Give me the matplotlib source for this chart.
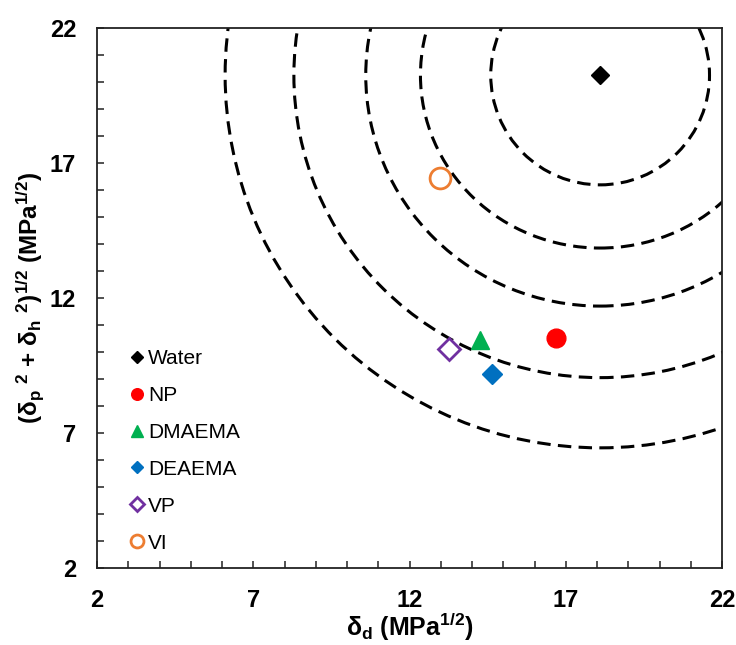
import matplotlib
matplotlib.use("Agg")
import matplotlib.pyplot as plt
from matplotlib.patches import Ellipse
from matplotlib.ticker import MultipleLocator

plt.rcParams['font.family'] = ['Liberation Sans', 'DejaVu Sans']
plt.rcParams['mathtext.fontset'] = 'custom'
plt.rcParams['mathtext.rm'] = 'Liberation Sans'
plt.rcParams['mathtext.bf'] = 'Liberation Sans:bold'
plt.rcParams['mathtext.it'] = 'Liberation Sans:italic'

# ---- data ----
names = ["Water", "NP", "DMAEMA", "DEAEMA", "VP", "VI"]
delta_d = [18.1, 16.7, 14.25, 14.65, 13.25, 12.98]
delta_ph = [20.25, 10.5, 10.45, 9.2, 10.1, 16.45]
markers = ["D", "o", "^", "D", "D", "o"]
colors = ["#000000", "#FF0000", "#00B050", "#0070C0", "#7030A0", "#ED7D31"]
filled = [True, True, True, True, False, False]
msizes = [9.5, 13.5, 13.5, 10.0, 11.0, 15.0]

# contour rings around water (semi-axes in data units)
ring_rx = [3.5, 5.75, 7.5, 9.8, 12.0]
ring_ry = [4.06, 6.4, 8.55, 11.2, 13.8]

xticks = [2, 7, 12, 17, 22]
yticks = [2, 7, 12, 17, 22]

fig = plt.figure(figsize=(7.36, 6.45), dpi=100)
ax = fig.add_axes([0.1318, 0.1194, 0.981 - 0.1318, 0.9566 - 0.1194])

cx, cy = delta_d[0], delta_ph[0]
for rx, ry in zip(ring_rx, ring_ry):
    e = Ellipse((cx, cy), 2 * rx, 2 * ry, fill=False, edgecolor='black',
                linewidth=2.2, linestyle=(0, (4.4, 2.4)), zorder=2)
    ax.add_patch(e)

for n, x, y, m, c, f, s in zip(names, delta_d, delta_ph, markers, colors, filled, msizes):
    ax.plot([x], [y], linestyle='none', marker=m, markersize=s,
            markerfacecolor=c if f else 'white', markeredgecolor=c,
            markeredgewidth=1.0 if f else 2.0, label=n, zorder=3)

ax.set_xlim(2, 22)
ax.set_ylim(2, 22)
ax.set_xticks(xticks)
ax.set_yticks(yticks)
ax.xaxis.set_minor_locator(MultipleLocator(1))
ax.yaxis.set_minor_locator(MultipleLocator(1))
ax.tick_params(which='both', direction='in', length=5, width=1.1,
               top=False, right=False, color='#222222')
ax.tick_params(which='major', pad=15, labelsize=17)
for lab in ax.get_xticklabels() + ax.get_yticklabels():
    lab.set_fontweight('bold')
for sp in ax.spines.values():
    sp.set_linewidth(1.3)
    sp.set_color('#222222')

ax.set_xlabel(r'δ$_\mathbf{d}$ (MPa$^\mathbf{1/2}$)', fontsize=18, fontweight='bold')
ax.xaxis.set_label_coords(0.5, -0.079)
ax.set_ylabel(r'(δ$_\mathbf{p}$ $^\mathbf{2}$ + δ$_\mathbf{h}$ $^\mathbf{2}$)$^\mathbf{1/2}$ (MPa$^\mathbf{1/2}$)',
              fontsize=17.5, fontweight='bold', va='center')
ax.yaxis.set_label_coords(-0.106, 0.5)

leg = ax.legend(loc='upper left', bbox_to_anchor=(0.04, 0.421), frameon=False,
                fontsize=15, markerscale=0.62, handlelength=0.6, handletextpad=0.25,
                labelspacing=0.86, borderaxespad=0)

fig.savefig("out.png", dpi=100)
